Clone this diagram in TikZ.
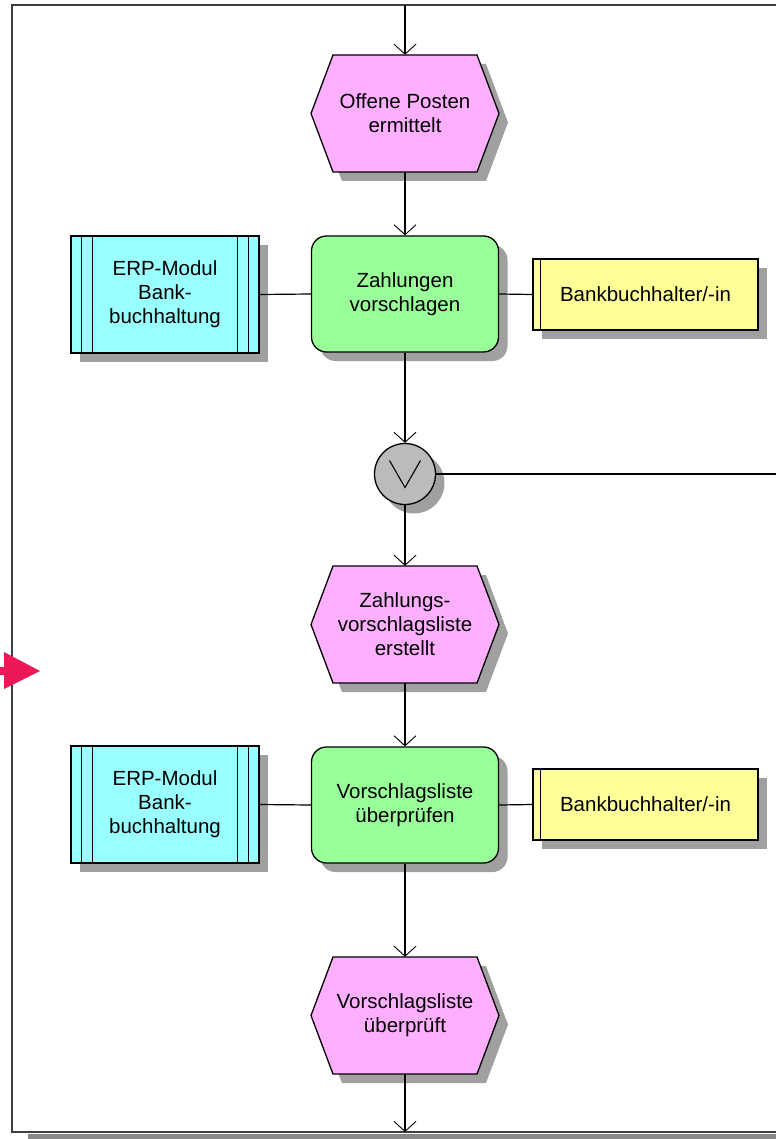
\documentclass[tikz,border=0pt]{standalone}
\usepackage{fontspec}
\setmainfont{Liberation Sans}
\usetikzlibrary{arrows.meta,shadows}

\definecolor{evpink}{RGB}{255,175,255}
\definecolor{fngreen}{RGB}{153,255,153}
\definecolor{syscyan}{RGB}{153,255,255}
\definecolor{roleyellow}{RGB}{255,255,153}
\definecolor{xorgray}{RGB}{187,187,187}
\definecolor{shadowgray}{RGB}{160,160,160}
\definecolor{framegray}{RGB}{60,64,64}
\definecolor{framesh}{RGB}{136,136,136}
\definecolor{ifred}{RGB}{236,24,88}

\tikzset{
  lbl/.style={align=center,font=\fontsize{20.5}{24}\selectfont,text=black},
  shd/.style={drop shadow={shadow xshift=9pt,shadow yshift=-9pt,fill=shadowgray,opacity=1}},
  evbox/.style={lbl,rectangle,inner sep=0pt,minimum width=188pt,minimum height=117pt},
  evshape/.style={fill=evpink,draw=black,line width=1.3pt,line join=miter},
  fnbox/.style={lbl,shd,rectangle,rounded corners=15pt,draw=black,line width=1.3pt,fill=fngreen,
    inner sep=0pt,minimum width=187pt,minimum height=116pt},
  sysbox/.style={lbl,shd,rectangle,draw=black,line width=1.3pt,fill=syscyan,
    inner sep=0pt,minimum width=188pt,minimum height=117pt},
  rolebox/.style={lbl,shd,rectangle,draw=black,line width=1.3pt,fill=roleyellow,
    inner sep=0pt,minimum width=225pt,minimum height=71pt},
  xorbox/.style={shd,circle,draw=black,line width=1.3pt,fill=xorgray,inner sep=0pt,minimum size=61pt},
  conn/.style={draw=black,line width=1.2pt},
  flow/.style={conn,-{Straight Barb[length=10pt,width=22pt,line width=0.9pt]}},
  inner/.style={draw=black,line width=1.3pt}
}

% event: hexagon with shadow, then a named text node on top
\newcommand\epcevent[3]{%
  \path (#2) coordinate (evc);
  \fill[shadowgray] ([shift={(9,9)}]evc) ++(-94,0) -- ++(22,-58.5) -- ++(144,0) -- ++(22,58.5)
      -- ++(-22,58.5) -- ++(-144,0) -- cycle;
  \path[evshape] (evc) ++(-94,0) -- ++(22,-58.5) -- ++(144,0) -- ++(22,58.5)
      -- ++(-22,58.5) -- ++(-144,0) -- cycle;
  \node[evbox] (#1) at (evc) {#3};
}
% application system: box with two double bars
\newcommand\sysnode[3]{%
  \node[sysbox] (#1) at (#2) {#3};
  \foreach \d in {11,22} {
    \draw[inner] ([xshift=\d pt]#1.north west) -- ([xshift=\d pt]#1.south west);
    \draw[inner] ([xshift=-\d pt]#1.north east) -- ([xshift=-\d pt]#1.south east);
  }
}
% organisational role: box with one bar on the left
\newcommand\rolenode[3]{%
  \node[rolebox] (#1) at (#2) {#3};
  \draw[inner] ([xshift=8pt]#1.north west) -- ([xshift=8pt]#1.south west);
}

\begin{document}
\begin{tikzpicture}[x=1pt,y=-1pt]
\useasboundingbox (0,0) rectangle (776,1139);

% page frame with its shadow
\fill[framesh] (28,1133.5) rectangle (776,1139);
\draw[framegray,line width=2pt] (776,5) -- (12,5) -- (12,1132) -- (776,1132);

% process interface marker
\fill[ifred] (0,667) -- (4,667) -- (4,652) -- (40,671) -- (4,689) -- (4,675) -- (0,675) -- cycle;

% free ends of the connectors leaving the page
\coordinate (topin) at (405,5);
\coordinate (botout) at (405,1132);
\coordinate (xorout) at (776,474);

% nodes
\epcevent{ev1}{405,113.5}{Offene Posten\\ermittelt}
\node[fnbox] (fn1) at (405,294) {Zahlungen\\vorschlagen};
\sysnode{erp1}{165,294.5}{ERP-Modul\\Bank-\\buchhaltung}
\rolenode{role1}{645.5,294.5}{Bankbuchhalter/-in}

\node[xorbox] (xor) at (405,474) {};
\draw[line width=1.1pt,line join=miter] ([shift={(-15.5,-13.5)}]xor.center) -- ([shift={(0,13.5)}]xor.center)
  -- ([shift={(15.5,-13.5)}]xor.center);

\epcevent{ev2}{405,624.5}{Zahlungs-\\vorschlagsliste\\erstellt}
\node[fnbox] (fn2) at (405,805) {Vorschlagsliste\\überprüfen};
\sysnode{erp2}{165,804.5}{ERP-Modul\\Bank-\\buchhaltung}
\rolenode{role2}{645.5,804.5}{Bankbuchhalter/-in}

\epcevent{ev3}{405,1015.5}{Vorschlagsliste\\überprüft}

% connectors
\draw[flow] (topin) -- (ev1.north);
\draw[flow] (ev1.south) -- (fn1.north);
\draw[conn] (erp1.east) -- (fn1.west);
\draw[conn] (fn1.east) -- (role1.west);
\draw[flow] (fn1.south) -- (xor.north);
\draw[conn] (xor.east) -- (xorout);
\draw[flow] (xor.south) -- (ev2.north);
\draw[flow] (ev2.south) -- (fn2.north);
\draw[conn] (erp2.east) -- (fn2.west);
\draw[conn] (fn2.east) -- (role2.west);
\draw[flow] (fn2.south) -- (ev3.north);
\draw[flow] (ev3.south) -- (botout);
\end{tikzpicture}
\end{document}
